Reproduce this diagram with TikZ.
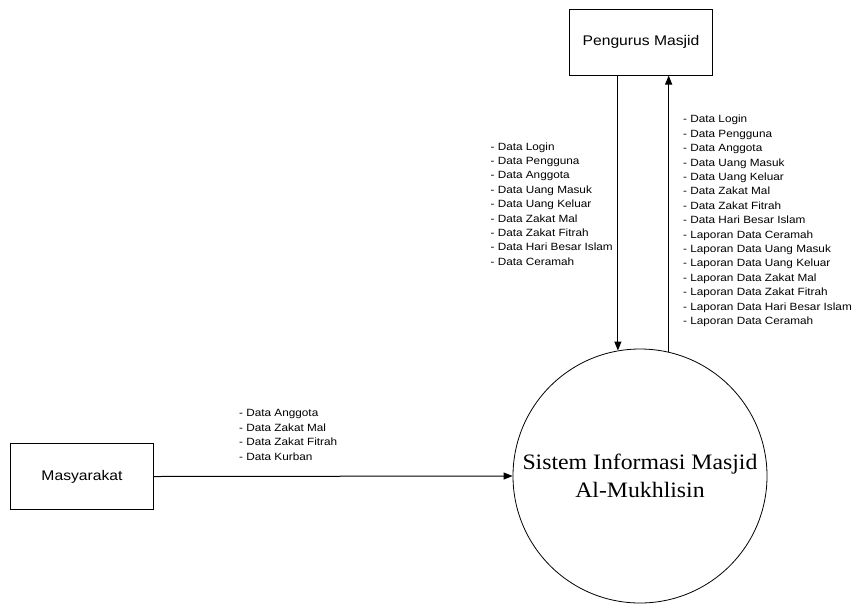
\documentclass[tikz,border=0pt]{standalone}
\usepackage{fontspec}
\setmainfont{Liberation Sans}
\newfontfamily\lblfont[FakeStretch=1.12]{Liberation Sans}
\newfontfamily\procfont[FakeStretch=1.08]{Liberation Serif}
\usetikzlibrary{arrows.meta, positioning}

\begin{document}
\begin{tikzpicture}[x=1pt, y=-1pt,
    entity/.style={draw, line width=1pt, minimum width=143pt, minimum height=66pt,
        font=\lblfont\fontsize{14}{16}\selectfont},
    process/.style={draw, circle, line width=0.8pt, minimum size=254pt, align=center,
        font=\procfont\fontsize{22}{28}\selectfont},
    flow/.style={line width=1pt, -{Triangle[length=9pt,width=7pt]}},
    datalist/.style={align=left, inner sep=0pt, font=\lblfont\fontsize{10.5}{14.4}\selectfont}]
    \useasboundingbox (0,0) rectangle (859,603);
    % External entities and the process
    \node[entity] (pengurus) at (641,42) {Pengurus Masjid};
    \node[entity] (masyarakat) at (82,476.5) {Masyarakat};
    \node[process] (sistem) at (640,476) {Sistem Informasi Masjid\\Al-Mukhlisin};
    % Data flows
    \draw[flow] (pengurus.south -| sistem.100) -- (sistem.100);
    \draw[flow] (sistem.77) -- (sistem.77 |- pengurus.south);
    \draw[flow] (masyarakat.east) -- (sistem.west);
    % Flow labels
    \node[datalist, anchor=east] (inlist) at (613,204) {- Data Login\\- Data Pengguna\\- Data Anggota\\- Data Uang Masuk\\- Data Uang Keluar\\- Data Zakat Mal\\- Data Zakat Fitrah\\- Data Hari Besar Islam\\- Data Ceramah};
    \node[datalist, anchor=west] (outlist) at (683,221) {- Data Login\\- Data Pengguna\\- Data Anggota\\- Data Uang Masuk\\- Data Uang Keluar\\- Data Zakat Mal\\- Data Zakat Fitrah\\- Data Hari Besar Islam\\- Laporan Data Ceramah\\- Laporan Data Uang Masuk\\- Laporan Data Uang Keluar\\- Laporan Data Zakat Mal\\- Laporan Data Zakat Fitrah\\- Laporan Data Hari Besar Islam\\- Laporan Data Ceramah};
    \node[datalist, anchor=west] (masylist) at (239,435) {- Data Anggota\\- Data Zakat Mal\\- Data Zakat Fitrah\\- Data Kurban};
\end{tikzpicture}
\end{document}
